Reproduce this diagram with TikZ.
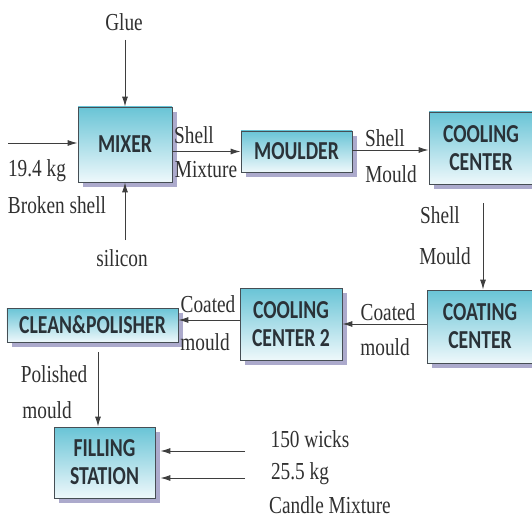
\documentclass[tikz,border=0pt]{standalone}
\usepackage{fontspec}
\setmainfont{Liberation Serif}[FakeStretch=0.79]
\newfontfamily\boxfont{Carlito}[FakeStretch=0.76]
\usetikzlibrary{arrows.meta, shadows}
\definecolor{boxtop}{RGB}{105,196,214}
\definecolor{boxbot}{RGB}{238,248,251}
\definecolor{boxline}{RGB}{70,78,84}
\definecolor{boxshade}{RGB}{172,170,204}
\definecolor{boxink}{RGB}{42,50,56}
\definecolor{inktext}{RGB}{48,48,48}
\definecolor{flowline}{RGB}{62,62,62}
\tikzset{
  stage/.style={rectangle, draw=boxline, line width=0.8pt, top color=boxtop, bottom color=boxbot,
                minimum width=#1, align=center, inner sep=0pt, text=boxink,
                font=\boxfont\bfseries\fontsize{26}{28}\selectfont,
                drop shadow={shadow xshift=5bp, shadow yshift=-5bp, fill=boxshade, opacity=1}},
  stage/.default=100bp,
  lbl/.style={inner sep=0pt, text=inktext, font=\fontsize{24.5}{26}\selectfont},
  flow/.style={-{Latex[length=10bp,width=6bp]}, line width=1pt, color=flowline},
}

\begin{document}
\begin{tikzpicture}[x=1bp, y=-1bp]
  \useasboundingbox (0,0) rectangle (532,525);

  % process stages
  \node[stage=94bp, minimum height=75bp] (mixer) at (125,144.5) {MIXER};
  \node[stage=111bp, minimum height=41bp] (moulder) at (296.5,151.5) {MOULDER};
  \node[stage=104bp, minimum height=72bp] (cooling) at (481,148) {COOLING\\CENTER};
  \node[stage=106bp, minimum height=73bp] (coating) at (480,326.5) {COATING\\CENTER};
  \node[stage=102bp, minimum height=72bp] (coolingtwo) at (291,324) {COOLING\\CENTER 2};
  \node[stage=171bp, minimum height=34bp] (polisher) at (92.5,325) {CLEAN\&POLISHER};
  \node[stage=101bp, minimum height=71bp] (filling) at (104.5,462.5) {FILLING\\STATION};

  % free ends of the inputs
  \coordinate (gluein) at (125,40);
  \coordinate (siliconin) at (125,240);
  \coordinate (shellin) at (8,143);
  \coordinate (wicksin) at (245,451);
  \coordinate (candlein) at (245,478);

  % flows
  \draw[flow] (gluein) -- (mixer.north);
  \draw[flow] (siliconin) -- (mixer.south);
  \draw[flow] (shellin) -- (shellin -| mixer.west);
  \draw[flow] (mixer.east |- moulder.west) -- (moulder.west);
  \draw[flow] ([yshift=1.5bp]moulder.east) -- ([yshift=1.5bp]moulder.east -| cooling.west);
  \draw[flow, shorten <=19bp] ([xshift=2bp]cooling.south) -- ([xshift=2bp]cooling.south |- coating.north);
  \draw[flow] (coating.west |- coolingtwo.east) -- (coolingtwo.east);
  \draw[flow] ([yshift=4bp]coolingtwo.west) -- ([yshift=4bp]coolingtwo.west -| polisher.east);
  \draw[flow, shorten <=10bp] ([xshift=5.5bp]polisher.south) -- ([xshift=5.5bp]polisher.south |- filling.north);
  \draw[flow, shorten >=5bp] (wicksin) -- (wicksin -| filling.east);
  \draw[flow, shorten >=5bp] (candlein) -- (candlein -| filling.east);

  % flow labels
  \node[lbl] (glue) at (124,22) {Glue};
  \node[lbl] (silicon) at (122,258) {silicon};
  \node[lbl] (shellkg) at (37,171) {19.4 kg};
  \node[lbl] (brokenshell) at (57,205) {Broken shell};
  \node[lbl] (mixshell) at (194,135) {Shell};
  \node[lbl] (mixture) at (206,170) {Mixture};
  \node[lbl] (mouldshell) at (385,138) {Shell};
  \node[lbl] (mouldmould) at (391,174) {Mould};
  \node[lbl] (coolshell) at (440,215) {Shell};
  \node[lbl] (coolmould) at (445,256) {Mould};
  \node[lbl] (coatcoated) at (388,312) {Coated};
  \node[lbl] (coatmould) at (385,347) {mould};
  \node[lbl] (cool2coated) at (208,304) {Coated};
  \node[lbl] (cool2mould) at (205,342) {mould};
  \node[lbl] (polished) at (54,374) {Polished};
  \node[lbl] (polishmould) at (47,410) {mould};
  \node[lbl] (wicks) at (310,439) {150 wicks};
  \node[lbl] (candlekg) at (300,474) {25.5 kg};
  \node[lbl] (candlemix) at (330,505) {Candle Mixture};
\end{tikzpicture}
\end{document}
